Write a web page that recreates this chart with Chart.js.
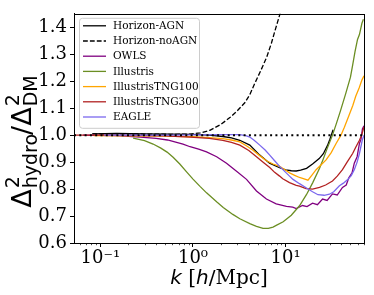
<!DOCTYPE html>
<html>
<head>
<meta charset="utf-8">
<script src="https://cdn.jsdelivr.net/npm/chart.js@4.4.1/dist/chart.umd.min.js"></script>
<style>
  html, body { margin: 0; padding: 0; background: #fff; }
  #chart { display: block; }
</style>
</head>
<body>
<canvas id="chart" width="374" height="295"></canvas>
<script>
// k [h/Mpc] and Delta^2_hydro / Delta^2_DM
const kHorizonAGN = [0.082, 0.15, 0.3, 0.6, 1.0, 1.5, 2.1, 2.6, 3.2, 4.1, 5.25, 6.7, 8.6, 10, 11.5, 13, 14.5, 16.8, 19.5, 23, 25.5, 28.3, 30, 32.5];
const rHorizonAGN = [1.005, 1.006, 1.005, 1.004, 1.003, 1.0, 0.995, 0.99, 0.981, 0.963, 0.926, 0.896, 0.879, 0.871, 0.868, 0.867, 0.87, 0.877, 0.893, 0.913, 0.931, 0.962, 0.985, 1.02];

const kHorizonNoAGN = [0.082, 0.15, 0.3, 0.6, 0.93, 1.2, 1.52, 2.0, 2.5, 3.0, 3.62, 4.1, 4.64, 5.4, 6.25, 7.0, 7.62, 8.62, 9.5];
const rHorizonNoAGN = [1.005, 1.005, 1.004, 1.003, 1.004, 1.008, 1.018, 1.04, 1.065, 1.09, 1.12, 1.15, 1.192, 1.24, 1.29, 1.34, 1.384, 1.446, 1.51];

const kOWLS = [0.065, 0.15, 0.27, 0.4, 0.53, 0.78, 0.93, 1.15, 1.4, 1.8, 2.3, 2.95, 3.78, 4.84, 6.2, 7.9, 10.2, 11.9, 13, 15.2, 17, 19.5, 22, 25, 28, 32, 36, 41, 45, 48, 52, 55, 59, 62.5, 65, 67.3, 70];
const rOWLS = [1.0, 0.998, 0.993, 0.988, 0.982, 0.967, 0.957, 0.948, 0.938, 0.92, 0.896, 0.866, 0.836, 0.793, 0.763, 0.745, 0.736, 0.733, 0.728, 0.739, 0.735, 0.748, 0.742, 0.763, 0.758, 0.782, 0.778, 0.806, 0.815, 0.842, 0.86, 0.896, 0.92, 0.969, 0.985, 1.023, 1.035];

const kIllustris = [0.226, 0.3, 0.371, 0.45, 0.525, 0.61, 0.72, 0.862, 1.0, 1.19, 1.4, 1.81, 2.12, 2.69, 3.2, 4.1, 4.84, 5.7, 6.5, 7.3, 8.0, 9.4, 11.5, 14.1, 16.8, 19.6, 23.2, 25.2, 28, 32, 35, 39, 44.6, 50, 52.8, 56, 59.6, 62.5, 66.5, 69];
const rIllustris = [0.989, 0.98, 0.967, 0.952, 0.937, 0.918, 0.893, 0.862, 0.837, 0.81, 0.786, 0.752, 0.732, 0.706, 0.69, 0.672, 0.662, 0.654, 0.654, 0.659, 0.666, 0.679, 0.703, 0.738, 0.78, 0.824, 0.877, 0.908, 0.95, 1.0, 1.04, 1.09, 1.156, 1.215, 1.26, 1.31, 1.355, 1.373, 1.415, 1.43];

const kTNG100 = [0.085, 0.2, 0.5, 1.0, 1.5, 2.1, 2.6, 3.2, 3.8, 4.4, 5.2, 6.2, 7.3, 8.6, 10, 11, 12.5, 14.1, 15.8, 17.4, 19.3, 21.3, 24, 27.3, 31, 35, 39.5, 43, 48.4, 53, 57, 62, 66.6, 70];
const rTNG100 = [0.998, 0.997, 0.996, 0.994, 0.991, 0.987, 0.982, 0.975, 0.96, 0.945, 0.925, 0.905, 0.893, 0.884, 0.87, 0.86, 0.851, 0.843, 0.838, 0.833, 0.853, 0.872, 0.889, 0.908, 0.935, 0.969, 1.0, 1.029, 1.075, 1.11, 1.144, 1.175, 1.205, 1.22];

const kTNG300 = [0.052, 0.1, 0.2, 0.5, 0.93, 1.5, 2.1, 2.6, 3.2, 4.0, 4.84, 5.8, 6.73, 7.6, 8.6, 9.3, 11, 13, 14.1, 16.6, 19.5, 23.2, 27, 32, 36, 41, 46, 52.8, 57, 62.5, 66, 70];
const rTNG300 = [1.0, 1.0, 0.999, 0.997, 0.993, 0.988, 0.981, 0.973, 0.963, 0.943, 0.92, 0.898, 0.88, 0.862, 0.848, 0.838, 0.824, 0.814, 0.811, 0.802, 0.8, 0.806, 0.815, 0.83, 0.848, 0.872, 0.9, 0.932, 0.955, 0.981, 1.0, 1.03];

const kEAGLE = [0.11, 0.2, 0.5, 1.0, 2.0, 3.2, 3.7, 4.1, 4.6, 5.25, 6.0, 6.73, 7.6, 8.6, 10, 11, 12, 14.1, 16.6, 19.5, 22.3, 26, 29.7, 33, 38, 42, 47, 51, 55, 59, 62.5, 67, 70];
const rEAGLE = [1.0, 1.0, 1.0, 1.001, 1.002, 1.002, 0.998, 0.993, 0.98, 0.963, 0.945, 0.926, 0.905, 0.884, 0.862, 0.848, 0.836, 0.82, 0.805, 0.79, 0.779, 0.777, 0.781, 0.79, 0.812, 0.822, 0.836, 0.85, 0.872, 0.9, 0.932, 0.981, 1.0];

const kRange = [0.052, 70];
const referenceLevel = 1.0;
const yTickValues = [0.6, 0.7, 0.8, 0.9, 1.0, 1.1, 1.2, 1.3, 1.4];
const xMajorTicks = [0.1, 1, 10];
const xMajorLabels = ['10\u207B\u00B9', '10\u2070', '10\u00B9'];
const xMinorTicks = [0.06, 0.07, 0.08, 0.09, 0.2, 0.3, 0.4, 0.5, 0.6, 0.7, 0.8, 0.9,
  2, 3, 4, 5, 6, 7, 8, 9, 20, 30, 40, 50, 60, 70];

const series = [
  { label: 'Horizon-AGN', k: kHorizonAGN, r: rHorizonAGN, color: '#000000' },
  { label: 'Horizon-noAGN', k: kHorizonNoAGN, r: rHorizonNoAGN, color: '#000000', dash: [4.8, 2.1] },
  { label: 'OWLS', k: kOWLS, r: rOWLS, color: '#800080' },
  { label: 'Illustris', k: kIllustris, r: rIllustris, color: '#6b8e23' },
  { label: 'IllustrisTNG100', k: kTNG100, r: rTNG100, color: '#ffa500' },
  { label: 'IllustrisTNG300', k: kTNG300, r: rTNG300, color: '#b22222' },
  { label: 'EAGLE', k: kEAGLE, r: rEAGLE, color: '#7b68ee' }
];

function toPoints(ks, rs) {
  return ks.map((k, i) => ({ x: k, y: rs[i] }));
}

const datasets = series.map((s, i) => ({
  label: s.label,
  data: toPoints(s.k, s.r),
  borderColor: s.color,
  borderWidth: 1.3,
  borderDash: s.dash || [],
  showLine: true,
  pointRadius: 0,
  order: series.length - i + 1,
  clip: 0
}));

datasets.push({
  label: 'ref',
  data: kRange.map(k => ({ x: k, y: referenceLevel })),
  borderColor: '#000',
  borderWidth: 2,
  borderDash: [2, 3.3],
  showLine: true,
  pointRadius: 0,
  order: 0,
  clip: 0
});

function isDecade(v) {
  const l = Math.log10(v);
  return Math.abs(l - Math.round(l)) < 1e-6;
}

// draws the frame, minor ticks, legend and the math-style axis titles
const decor = {
  id: 'decor',
  afterDraw(chart) {
    const ctx = chart.ctx;
    const a = chart.chartArea;
    const xs = chart.scales.x;
    ctx.save();

    ctx.strokeStyle = '#000';
    ctx.lineWidth = 1;
    ctx.strokeRect(Math.round(a.left) + 0.5, Math.round(a.top) + 0.5,
      Math.round(a.right - a.left), Math.round(a.bottom - a.top));

    // minor ticks on the log axis
    ctx.beginPath();
    xMinorTicks.forEach(v => {
      const px = Math.round(xs.getPixelForValue(v)) + 0.5;
      ctx.moveTo(px, a.bottom);
      ctx.lineTo(px, a.bottom + 2.2);
    });
    ctx.lineWidth = 0.7;
    ctx.stroke();

    // legend
    const lx = a.left + 5, ly = a.top + 4, lw = 120, lh = 110;
    ctx.beginPath();
    ctx.roundRect(lx + 0.5, ly + 0.5, lw, lh, 3);
    ctx.fillStyle = 'rgba(255,255,255,0.8)';
    ctx.fill();
    ctx.strokeStyle = '#cccccc';
    ctx.lineWidth = 1;
    ctx.stroke();
    series.forEach((s, i) => {
      const y = ly + 8 + i * 15.2;
      ctx.beginPath();
      ctx.setLineDash(s.dash || []);
      ctx.moveTo(lx + 4, y);
      ctx.lineTo(lx + 27, y);
      ctx.strokeStyle = s.color;
      ctx.lineWidth = 1.3;
      ctx.stroke();
      ctx.setLineDash([]);
      ctx.fillStyle = '#000';
      ctx.font = '10.5px "DejaVu Serif"';
      ctx.textBaseline = 'middle';
      ctx.textAlign = 'left';
      ctx.fillText(s.label, lx + 34, y + 0.5);
    });

    // y title: Delta^2_hydro / Delta^2_DM
    const F = 27;
    const big = F + 'px "DejaVu Sans"';
    const small = Math.round(F * 0.7) + 'px "DejaVu Sans"';
    const parts = [
      { main: '\u0394' },
      { sup: '2', sub: 'hydro' },
      { main: '/' },
      { main: '\u0394' },
      { sup: '2', sub: 'DM' }
    ];
    const widths = parts.map(p => {
      if (p.main) { ctx.font = big; return ctx.measureText(p.main).width; }
      ctx.font = small;
      return Math.max(ctx.measureText(p.sup).width, ctx.measureText(p.sub).width);
    });
    const total = widths.reduce((s, w) => s + w, 0);
    ctx.translate(31, 142);
    ctx.rotate(-Math.PI / 2);
    ctx.textBaseline = 'alphabetic';
    ctx.textAlign = 'left';
    ctx.fillStyle = '#000';
    let x = -total / 2;
    parts.forEach((p, i) => {
      if (p.main) {
        ctx.font = big;
        ctx.fillText(p.main, x, 0);
      } else {
        ctx.font = small;
        ctx.fillText(p.sup, x + 1, -F * 0.45);
        ctx.fillText(p.sub, x + 1, F * 0.22);
      }
      x += widths[i];
    });
    ctx.restore();

    // x title: k [h/Mpc]
    ctx.save();
    const xp = [
      { t: 'k', f: 'italic 20px "DejaVu Sans"' },
      { t: ' [', f: '20px "DejaVu Serif"' },
      { t: 'h', f: 'italic 20px "DejaVu Sans"' },
      { t: '/', f: '20px "DejaVu Sans"' },
      { t: 'Mpc]', f: '20px "DejaVu Serif"' }
    ];
    const xw = xp.map(p => { ctx.font = p.f; return ctx.measureText(p.t).width; });
    let cx = (a.left + a.right) / 2 - xw.reduce((s, w) => s + w, 0) / 2;
    ctx.fillStyle = '#000';
    ctx.textBaseline = 'alphabetic';
    ctx.textAlign = 'left';
    xp.forEach((p, i) => {
      ctx.font = p.f;
      ctx.fillText(p.t, cx, 284);
      cx += xw[i];
    });
    ctx.restore();
  }
};

const tickFont = { family: 'DejaVu Serif', size: 18 };

new Chart(document.getElementById('chart'), {
  type: 'scatter',
  data: { datasets },
  options: {
    responsive: false,
    animation: false,
    devicePixelRatio: 1,
    layout: { padding: { left: 0, right: 10, top: 9, bottom: 0 } },
    plugins: { legend: { display: false }, tooltip: { enabled: false } },
    elements: { line: { tension: 0 } },
    scales: {
      x: {
        type: 'logarithmic',
        min: kRange[0],
        max: kRange[1],
        afterBuildTicks: s => { s.ticks = xMajorTicks.map(v => ({ value: v })); },
        afterFit: s => { s.height = 52; },
        ticks: {
          autoSkip: false,
          maxRotation: 0,
          color: '#000',
          font: tickFont,
          padding: 1,
          callback: v => isDecade(v) ? xMajorLabels[xMajorTicks.indexOf(v)] : ''
        },
        grid: { drawOnChartArea: false, tickLength: 4, color: '#000' },
        border: { color: '#000' }
      },
      y: {
        min: 0.6,
        max: 1.45,
        afterBuildTicks: s => { s.ticks = yTickValues.map(v => ({ value: v })); },
        afterFit: s => { s.width = 74; },
        ticks: {
          color: '#000',
          font: tickFont,
          padding: 3,
          callback: v => v.toFixed(1)
        },
        grid: { drawOnChartArea: false, tickLength: 4, color: '#000' },
        border: { color: '#000' }
      }
    }
  },
  plugins: [decor]
});
</script>
</body>
</html>
